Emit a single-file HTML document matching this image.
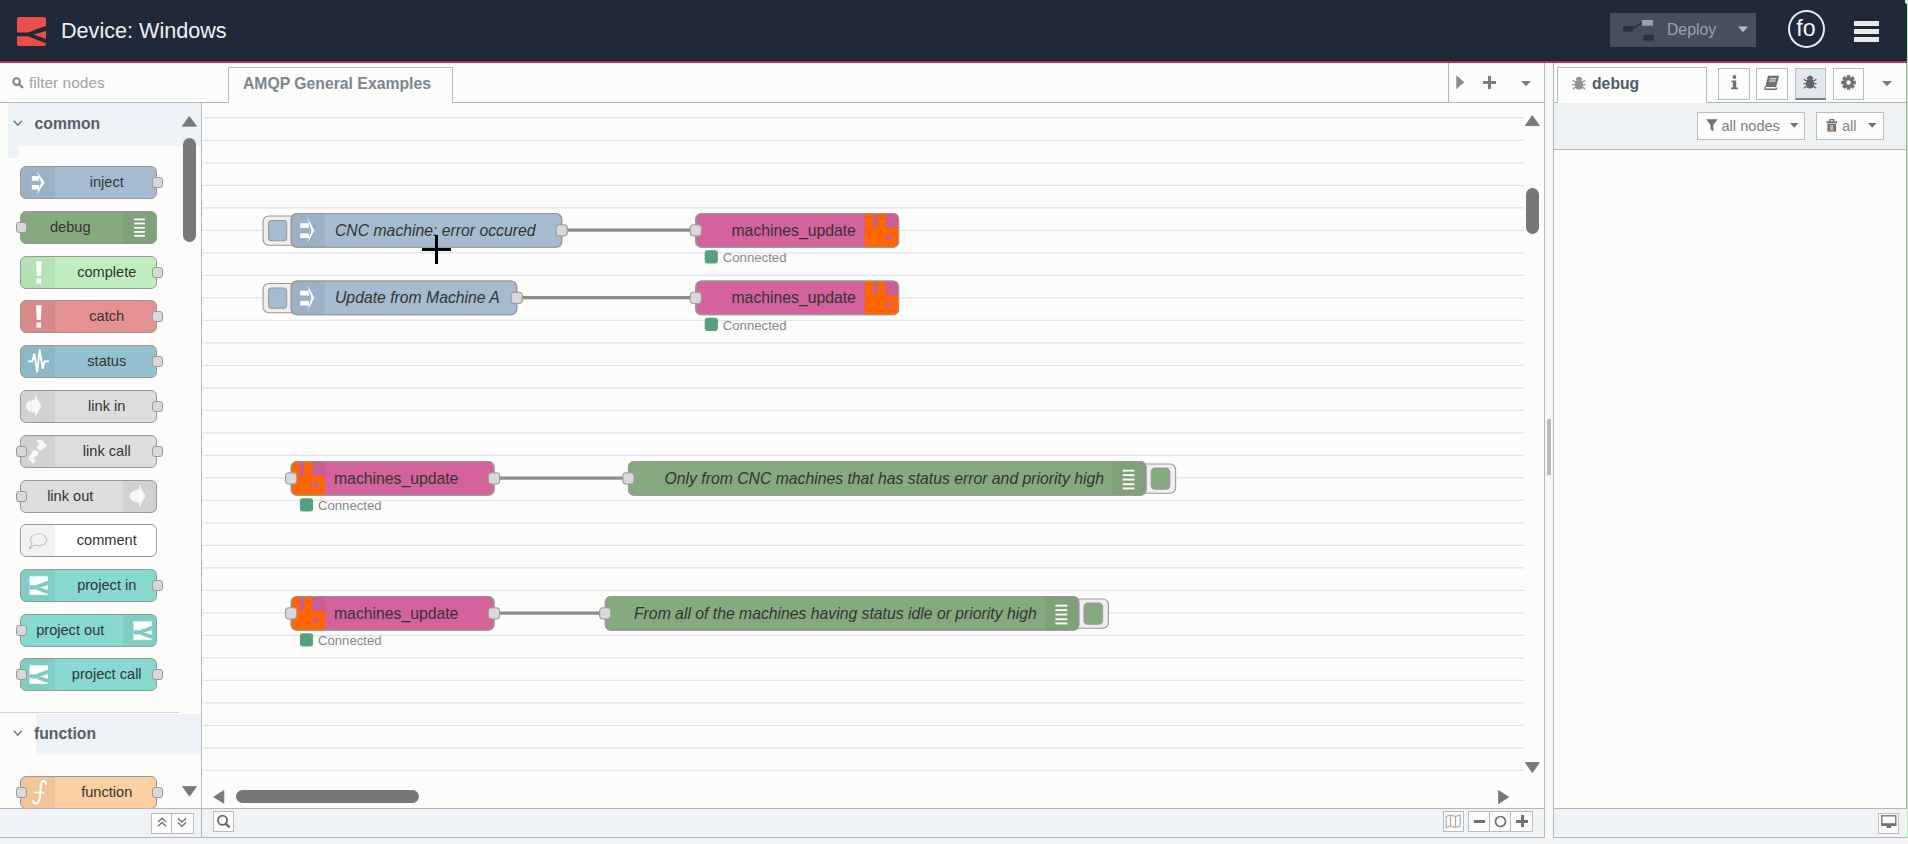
<!DOCTYPE html>
<html><head><meta charset="utf-8"><title>Node-RED</title>
<style>
html,body{margin:0;padding:0;}
body{width:1908px;height:844px;overflow:hidden;position:relative;background:#fcfcfa;font-family:"Liberation Sans",sans-serif;}
.a{position:absolute;box-sizing:border-box;}
.t{position:absolute;white-space:nowrap;}
</style></head><body>

<div class="a" style="left:0px;top:0px;width:1908px;height:59px;background:#1f2937"></div>
<div class="a" style="left:0px;top:59px;width:1908px;height:2px;background:#3a1c26"></div>
<div class="a" style="left:0px;top:61px;width:1908px;height:2px;background:#973b69"></div>
<div class="a" style="left:0px;top:63px;width:1908px;height:1px;background:#f6ebe6"></div>
<svg class="a" style="left:17px;top:17px;" width="29" height="29" viewBox="0 0 29 29"><rect x="0" y="0" width="29" height="29" rx="2" fill="#ea4f4a"/><path d="M0 15.6 L10 15.6 C13 15.6 16 13 29 9.1 L29 14.1 L16.4 17.5 L29 22 L29 26.2 C16 21.6 13 19.3 10 19.3 L0 19.3 Z" fill="#1f2937"/></svg>
<div class="t" style="left:61.00px;top:19.82px;font-size:21.6px;line-height:21.6px;color:#eef0f3;font-weight:normal;font-style:normal;">Device: Windows</div>
<div class="a" style="left:1610px;top:13px;width:146px;height:34px;background:#464f5d"></div>
<svg class="a" style="left:1623px;top:20px;" width="32" height="22" viewBox="0 0 32 22"><rect x="0" y="6" width="10" height="5.7" fill="#2a3240"/><rect x="18.8" y="0" width="11.2" height="5.7" fill="#9aa1a8"/><rect x="20.3" y="14.9" width="10.4" height="5.7" fill="#2a3240"/><path d="M10 8.5 L18.8 3" stroke="#2a3240" stroke-width="1.5"/></svg>
<div class="t" style="left:1667.00px;top:22.17px;font-size:15.75px;line-height:15.75px;color:#9ba3ad;font-weight:normal;font-style:normal;">Deploy</div>
<svg class="a" style="left:1738px;top:26px;" width="10" height="7" viewBox="0 0 10 7"><path d="M0 0.6 L10 0.6 L5 6.3Z" fill="#b8bec5"/></svg>
<div class="a" style="left:1788px;top:10px;width:37px;height:38px;border:2px solid #e9ebee;border-radius:50%;"></div>
<div class="t" style="left:1796.30px;top:17.46px;font-size:23.2px;line-height:23.2px;color:#f4f5f7;font-weight:normal;font-style:normal;">fo</div>
<div class="a" style="left:1854px;top:21px;width:25px;height:4.8px;background:#e6e8ea"></div>
<div class="a" style="left:1854px;top:29.1px;width:25px;height:4.8px;background:#e6e8ea"></div>
<div class="a" style="left:1854px;top:37.3px;width:25px;height:4.8px;background:#e6e8ea"></div>
<svg class="a" style="left:12px;top:77px;" width="12" height="12" viewBox="0 0 12 12"><circle cx="4.6" cy="4.6" r="3.3" fill="none" stroke="#7d848b" stroke-width="2"/><path d="M7 7 L10.3 10.3" stroke="#7d848b" stroke-width="2.2" stroke-linecap="round"/></svg>
<div class="t" style="left:29.00px;top:75.38px;font-size:15.5px;line-height:15.5px;color:#9fa4a9;font-weight:normal;font-style:normal;">filter nodes</div>
<div class="a" style="left:0px;top:102px;width:229px;height:1px;background:#b2b6ba"></div>
<div class="a" style="left:452px;top:102px;width:1092px;height:1px;background:#b2b6ba"></div>
<div class="a" style="left:228px;top:67px;width:225px;height:36px;border:1px solid #b8bcc0;border-bottom:none;background:#fcfcfb"></div>
<div class="t" style="left:243.00px;top:75.67px;font-size:15.75px;line-height:15.75px;color:#7b8690;font-weight:bold;font-style:normal;">AMQP General Examples</div>
<div class="a" style="left:1448px;top:63px;width:1px;height:39px;background:#b2b6ba"></div>
<svg class="a" style="left:1456px;top:75px;" width="9" height="15" viewBox="0 0 9 15"><path d="M0.3 0.3 L8.3 7.2 L0.3 14.3Z" fill="#8a8a8d"/></svg>
<svg class="a" style="left:1483px;top:76px;" width="13" height="13" viewBox="0 0 13 13"><rect x="5" y="0" width="3" height="13" fill="#7a7c80"/><rect x="0" y="5" width="13" height="3" fill="#7a7c80"/></svg>
<svg class="a" style="left:1521px;top:81px;" width="10" height="6" viewBox="0 0 10 6"><path d="M0 0 L10 0 L5 5.3Z" fill="#7a7c80"/></svg>
<div class="a" style="left:201px;top:103px;width:1px;height:735px;background:#b2b6ba"></div>
<div class="a" style="left:1544px;top:63px;width:1px;height:775px;background:#b2b6ba"></div>
<div class="a" style="left:1545px;top:63px;width:8px;height:775px;background:#f7f8f8"></div>
<div class="a" style="left:1547px;top:419px;width:4px;height:56px;background:#b9b9bb"></div>
<div class="a" style="left:1553px;top:63px;width:1px;height:775px;background:#b2b6ba"></div>
<div class="a" style="left:1906px;top:63px;width:1px;height:775px;background:#abacb2"></div>
<div class="a" style="left:1907px;top:0px;width:1px;height:844px;background:#b2f2b2"></div>
<div class="a" style="left:1905px;top:0px;width:2px;height:4px;background:#e6e6f0;border-radius:0 0 0 3px"></div>
<div class="a" style="left:1557px;top:67px;width:150px;height:36px;border:1px solid #b8bcc0;border-bottom:none;background:#fcfcfb"></div>
<div class="a" style="left:1553px;top:102px;width:4px;height:1px;background:#b2b6ba"></div>
<div class="a" style="left:1706px;top:102px;width:200px;height:1px;background:#b2b6ba"></div>
<svg class="a" style="left:1572px;top:76px;" width="14" height="14" viewBox="0 0 14 14"><g fill="#8f9496" stroke="#8f9496"><path d="M7 1.2 C5 1.2 4.2 2.5 4.2 3.6 L9.8 3.6 C9.8 2.5 9 1.2 7 1.2Z"/><rect x="3.6" y="4.4" width="6.8" height="8.6" rx="2.4"/><path d="M3.6 6 L0.6 4.4 M3.6 8.6 L0.4 8.6 M3.6 11 L0.8 13.2 M10.4 6 L13.4 4.4 M10.4 8.6 L13.6 8.6 M10.4 11 L13.2 13.2" stroke-width="1.3" fill="none"/></g></svg>
<div class="t" style="left:1592.00px;top:75.67px;font-size:15.75px;line-height:15.75px;color:#4e5b66;font-weight:bold;font-style:normal;">debug</div>
<div class="a" style="left:1718px;top:68px;width:32px;height:32px;border:1px solid #b8bcc0;background:#fcfcfb"></div>
<div class="a" style="left:1756px;top:68px;width:32px;height:32px;border:1px solid #b8bcc0;background:#fcfcfb"></div>
<div class="a" style="left:1795px;top:68px;width:31px;height:32px;border:1px solid #b8bcc0;border-bottom:2px solid #7a7f86;background:#e4e7ef"></div>
<div class="a" style="left:1833px;top:68px;width:31px;height:32px;border:1px solid #b8bcc0;background:#fcfcfb"></div>
<svg class="a" style="left:1730px;top:75px;" width="9" height="15" viewBox="0 0 9 15"><circle cx="4.4" cy="2" r="1.9" fill="#6d7276"/><path d="M1.5 5.4 L6.2 5.4 L6.2 12.4 L8 12.4 L8 14.3 L1 14.3 L1 12.4 L2.8 12.4 L2.8 7.3 L1.5 7.3Z" fill="#6d7276"/></svg>
<svg class="a" style="left:1764px;top:75px;" width="16" height="15" viewBox="0 0 16 15"><path d="M4 0.8 L15.2 0.8 L12 12 L1.2 12 Z" fill="#6d7276"/><path d="M1.2 12 L1 14.2 L12 14.2 L12.6 12.5" stroke="#6d7276" stroke-width="1.4" fill="none"/><path d="M5.8 3.8 L12.2 3.8 M5.2 6 L11.6 6" stroke="#fcfcfb" stroke-width="1"/></svg>
<svg class="a" style="left:1803px;top:75px;" width="15" height="15" viewBox="0 0 15 15"><g fill="#5f6468" stroke="#5f6468"><path d="M7 1.2 C5 1.2 4.2 2.5 4.2 3.6 L9.8 3.6 C9.8 2.5 9 1.2 7 1.2Z"/><rect x="3.6" y="4.4" width="6.8" height="8.6" rx="2.4"/><path d="M3.6 6 L0.6 4.4 M3.6 8.6 L0.4 8.6 M3.6 11 L0.8 13.2 M10.4 6 L13.4 4.4 M10.4 8.6 L13.6 8.6 M10.4 11 L13.2 13.2" stroke-width="1.3" fill="none"/></g></svg>
<svg class="a" style="left:1841px;top:75px;" width="15" height="15" viewBox="0 0 15 15"><g transform="translate(7.5 7.5)" fill="#6d7276"><rect x="-1.8" y="-7.3" width="3.6" height="4" transform="rotate(0)"/><rect x="-1.8" y="-7.3" width="3.6" height="4" transform="rotate(45)"/><rect x="-1.8" y="-7.3" width="3.6" height="4" transform="rotate(90)"/><rect x="-1.8" y="-7.3" width="3.6" height="4" transform="rotate(135)"/><rect x="-1.8" y="-7.3" width="3.6" height="4" transform="rotate(180)"/><rect x="-1.8" y="-7.3" width="3.6" height="4" transform="rotate(225)"/><rect x="-1.8" y="-7.3" width="3.6" height="4" transform="rotate(270)"/><rect x="-1.8" y="-7.3" width="3.6" height="4" transform="rotate(315)"/><circle r="5.2"/><circle r="2.2" fill="#fcfcfb"/></g></svg>
<svg class="a" style="left:1882px;top:81px;" width="10" height="6" viewBox="0 0 10 6"><path d="M0 0 L10 0 L5 5.3Z" fill="#7a7c80"/></svg>
<div class="a" style="left:1554px;top:103px;width:352px;height:46px;background:#eff2f5"></div>
<div class="a" style="left:1554px;top:149px;width:352px;height:1px;background:#b2b6ba"></div>
<div class="a" style="left:1697px;top:112px;width:108px;height:28px;border:1px solid #b8bcc0;background:#fcfcfb"></div>
<svg class="a" style="left:1706px;top:119px;" width="12" height="13" viewBox="0 0 12 13"><path d="M0 0.3 L11.8 0.3 L7.3 5.8 L7.3 12.5 L4.5 10.3 L4.5 5.8Z" fill="#6d7276"/></svg>
<div class="t" style="left:1721.50px;top:119.24px;font-size:14.6px;line-height:14.6px;color:#7c8186;font-weight:normal;font-style:normal;">all nodes</div>
<svg class="a" style="left:1790px;top:123px;" width="9" height="6" viewBox="0 0 9 6"><path d="M0 0 L8.5 0 L4.25 4.8Z" fill="#6d7276"/></svg>
<div class="a" style="left:1816px;top:112px;width:68px;height:28px;border:1px solid #b8bcc0;background:#fcfcfb"></div>
<svg class="a" style="left:1826px;top:119px;" width="12" height="13" viewBox="0 0 12 13"><rect x="0.5" y="2.2" width="10.5" height="1.8" fill="#6d7276"/><path d="M3.8 2.2 L3.8 0.6 L7.6 0.6 L7.6 2.2" stroke="#6d7276" stroke-width="1.2" fill="none"/><rect x="1.4" y="4.6" width="8.7" height="8" fill="#6d7276"/><rect x="4" y="6" width="3.4" height="5.6" fill="#d9a782"/></svg>
<div class="t" style="left:1842.00px;top:119.24px;font-size:14.6px;line-height:14.6px;color:#7c8186;font-weight:normal;font-style:normal;">all</div>
<svg class="a" style="left:1868px;top:123px;" width="9" height="6" viewBox="0 0 9 6"><path d="M0 0 L8.5 0 L4.25 4.8Z" fill="#6d7276"/></svg>
<div class="a" style="left:8px;top:103px;width:193px;height:43px;background:#eef3f7"></div>
<div class="a" style="left:8px;top:146px;width:11px;height:12px;background:#eef3f7"></div>
<svg class="a" style="left:13px;top:120px;" width="10" height="7" viewBox="0 0 10 7"><path d="M0.8 0.8 L4.8 5.2 L8.8 0.8" stroke="#6e767d" stroke-width="1.5" fill="none"/></svg>
<div class="t" style="left:34.50px;top:115.87px;font-size:15.75px;line-height:15.75px;color:#56606a;font-weight:bold;font-style:normal;">common</div>
<svg class="a" style="left:182px;top:116px;" width="15" height="11" viewBox="0 0 15 11"><path d="M7.3 0.5 L14.5 10.2 L0.2 10.2Z" fill="#77787c" stroke="#77787c" stroke-width="0.8" stroke-linejoin="round"/></svg>
<div class="a" style="left:183px;top:138px;width:13px;height:104px;background:#77787c;border-radius:6.5px"></div>
<div class="a" style="left:20px;top:166px;width:137px;height:33px;background:#a6bbcf;border:1px solid #999;border-radius:6px;overflow:hidden">
<div class="a" style="left:0;top:0;width:34px;height:31px;background:rgba(0,0,0,0.05)"></div>
</div>
<svg class="a" style="left:20px;top:166px;" width="34" height="33" viewBox="0 0 34 33"><g fill="#ffffff"><rect x="11.9" y="10" width="7" height="4.7"/><rect x="11.9" y="19" width="7" height="4.5"/><path d="M16.7 5.2 L24.7 16.6 L16.7 28.7 L21.2 16.6Z"/></g></svg>
<div class="t" style="left:46.75px;width:120px;text-align:center;top:174.94px;font-size:14.6px;line-height:14.6px;color:#333">inject</div>
<div class="a" style="left:152px;top:177px;width:11px;height:11px;background:#d9d9d9;border:1px solid #999;border-radius:3px"></div>
<div class="a" style="left:20px;top:211px;width:137px;height:33px;background:#87a980;border:1px solid #999;border-radius:6px;overflow:hidden">
<div class="a" style="right:0;top:0;width:33px;height:31px;background:rgba(0,0,0,0.05)"></div>
</div>
<svg class="a" style="left:124px;top:211px;" width="34" height="33" viewBox="0 0 34 33"><g fill="#ffffff"><rect x="10.2" y="7.5" width="10.7" height="1.8"/><rect x="10.2" y="11.6" width="10.7" height="1.8"/><rect x="10.2" y="15.9" width="10.7" height="1.8"/><rect x="10.2" y="20" width="10.7" height="1.8"/><rect x="10.2" y="23.9" width="10.7" height="1.8"/></g></svg>
<div class="t" style="left:10.25px;width:120px;text-align:center;top:219.94px;font-size:14.6px;line-height:14.6px;color:#333">debug</div>
<div class="a" style="left:16px;top:222px;width:11px;height:11px;background:#d9d9d9;border:1px solid #999;border-radius:3px"></div>
<div class="a" style="left:20px;top:256px;width:137px;height:33px;background:#c0edc0;border:1px solid #999;border-radius:6px;overflow:hidden">
<div class="a" style="left:0;top:0;width:34px;height:31px;background:rgba(0,0,0,0.05)"></div>
</div>
<svg class="a" style="left:20px;top:256px;" width="34" height="33" viewBox="0 0 34 33"><g fill="#ffffff"><path d="M16 5.2 L21.6 5.2 L20.8 20 L16.8 20Z"/><rect x="16.5" y="22.5" width="4.6" height="5.2"/></g></svg>
<div class="t" style="left:46.75px;width:120px;text-align:center;top:264.94px;font-size:14.6px;line-height:14.6px;color:#333">complete</div>
<div class="a" style="left:152px;top:267px;width:11px;height:11px;background:#d9d9d9;border:1px solid #999;border-radius:3px"></div>
<div class="a" style="left:20px;top:300px;width:137px;height:33px;background:#e49191;border:1px solid #999;border-radius:6px;overflow:hidden">
<div class="a" style="left:0;top:0;width:34px;height:31px;background:rgba(0,0,0,0.05)"></div>
</div>
<svg class="a" style="left:20px;top:300px;" width="34" height="33" viewBox="0 0 34 33"><g fill="#ffffff"><path d="M16 5.2 L21.6 5.2 L20.8 20 L16.8 20Z"/><rect x="16.5" y="22.5" width="4.6" height="5.2"/></g></svg>
<div class="t" style="left:46.75px;width:120px;text-align:center;top:308.94px;font-size:14.6px;line-height:14.6px;color:#333">catch</div>
<div class="a" style="left:152px;top:311px;width:11px;height:11px;background:#d9d9d9;border:1px solid #999;border-radius:3px"></div>
<div class="a" style="left:20px;top:345px;width:137px;height:33px;background:#94c1d0;border:1px solid #999;border-radius:6px;overflow:hidden">
<div class="a" style="left:0;top:0;width:34px;height:31px;background:rgba(0,0,0,0.05)"></div>
</div>
<svg class="a" style="left:20px;top:345px;" width="34" height="33" viewBox="0 0 34 33"><path d="M8 16.4 L12.2 16.4 L14.4 8.6 L17.2 27.3 L19.6 4.3 L22.7 23.8 L24.6 16.4 L29.1 16.4" stroke="#ffffff" stroke-width="1.9" fill="none" stroke-linejoin="miter"/></svg>
<div class="t" style="left:46.75px;width:120px;text-align:center;top:353.94px;font-size:14.6px;line-height:14.6px;color:#333">status</div>
<div class="a" style="left:152px;top:356px;width:11px;height:11px;background:#d9d9d9;border:1px solid #999;border-radius:3px"></div>
<div class="a" style="left:20px;top:390px;width:137px;height:33px;background:#dddddd;border:1px solid #999;border-radius:6px;overflow:hidden">
<div class="a" style="left:0;top:0;width:34px;height:31px;background:rgba(0,0,0,0.05)"></div>
</div>
<svg class="a" style="left:20px;top:390px;" width="34" height="33" viewBox="0 0 34 33"><g fill="#ffffff" opacity="0.85"><path d="M15 4.6 L21.4 16 L15 27.5 L15 22.5 L11.5 22.5 L11.5 9.5 L15 9.5Z"/><path d="M11.5 10.5 A5.5 5.5 0 0 0 11.5 21.5Z"/></g></svg>
<div class="t" style="left:46.75px;width:120px;text-align:center;top:398.94px;font-size:14.6px;line-height:14.6px;color:#333">link in</div>
<div class="a" style="left:152px;top:401px;width:11px;height:11px;background:#d9d9d9;border:1px solid #999;border-radius:3px"></div>
<div class="a" style="left:20px;top:435px;width:137px;height:33px;background:#dddddd;border:1px solid #999;border-radius:6px;overflow:hidden">
<div class="a" style="left:0;top:0;width:34px;height:31px;background:rgba(0,0,0,0.05)"></div>
</div>
<svg class="a" style="left:20px;top:435px;" width="34" height="33" viewBox="0 0 34 33"><g fill="#ffffff" opacity="0.85"><path d="M16 5 L22 5 L27 10.5 L22 15.5 L19 15.5 L16.5 12 L19.5 9.5Z"/><path d="M9 21.5 L13 17 L16 19.5 L14 23 L16 26 L13 28.5 L8.5 24Z"/><circle cx="15" cy="18.5" r="3.3"/></g></svg>
<div class="t" style="left:46.75px;width:120px;text-align:center;top:443.94px;font-size:14.6px;line-height:14.6px;color:#333">link call</div>
<div class="a" style="left:16px;top:446px;width:11px;height:11px;background:#d9d9d9;border:1px solid #999;border-radius:3px"></div>
<div class="a" style="left:152px;top:446px;width:11px;height:11px;background:#d9d9d9;border:1px solid #999;border-radius:3px"></div>
<div class="a" style="left:20px;top:480px;width:137px;height:33px;background:#dddddd;border:1px solid #999;border-radius:6px;overflow:hidden">
<div class="a" style="right:0;top:0;width:33px;height:31px;background:rgba(0,0,0,0.05)"></div>
</div>
<svg class="a" style="left:124px;top:480px;" width="34" height="33" viewBox="0 0 34 33"><g fill="#ffffff" opacity="0.85"><path d="M15 4.6 L21.4 16 L15 27.5 L15 22.5 L11.5 22.5 L11.5 9.5 L15 9.5Z"/><path d="M11.5 10.5 A5.5 5.5 0 0 0 11.5 21.5Z"/></g></svg>
<div class="t" style="left:10.25px;width:120px;text-align:center;top:488.94px;font-size:14.6px;line-height:14.6px;color:#333">link out</div>
<div class="a" style="left:16px;top:491px;width:11px;height:11px;background:#d9d9d9;border:1px solid #999;border-radius:3px"></div>
<div class="a" style="left:20px;top:524px;width:137px;height:33px;background:#ffffff;border:1px solid #999;border-radius:6px;overflow:hidden">
<div class="a" style="left:0;top:0;width:34px;height:31px;background:rgba(0,0,0,0.05)"></div>
</div>
<svg class="a" style="left:20px;top:524px;" width="34" height="33" viewBox="0 0 34 33"><path d="M10.6 15.8 C10.6 12 14.2 9.8 18.5 9.8 C22.8 9.8 26.5 12 26.5 15.8 C26.5 19.6 22.8 21.8 18.5 21.8 C17 21.8 15.6 21.6 14.5 21.1 L9.3 24.7 L11.8 19.8 C11 18.6 10.6 17.2 10.6 15.8Z" fill="none" stroke="#c2c2c2" stroke-width="1.1"/></svg>
<div class="t" style="left:46.75px;width:120px;text-align:center;top:532.94px;font-size:14.6px;line-height:14.6px;color:#333">comment</div>
<div class="a" style="left:20px;top:569px;width:137px;height:33px;background:#87d8cf;border:1px solid #999;border-radius:6px;overflow:hidden">
<div class="a" style="left:0;top:0;width:34px;height:31px;background:rgba(0,0,0,0.05)"></div>
</div>
<svg class="a" style="left:20px;top:569px;" width="34" height="33" viewBox="0 0 34 33"><g><rect x="9.5" y="7.3" width="18.5" height="18.5" fill="#ffffff"/><g transform="translate(9.5 7.3)"><path d="M0 9.0 L5.5 9.0 C7.5 8.8 9.5 7.6 18.5 4.5 L18.5 9.0 L10.6 11.1 L18.5 13.4 L18.5 17.8 C9.5 14.6 7.5 13.2 5.5 13.1 L0 13.1 Z" fill="#80cdc5"/></g></g></svg>
<div class="t" style="left:46.75px;width:120px;text-align:center;top:577.94px;font-size:14.6px;line-height:14.6px;color:#333">project in</div>
<div class="a" style="left:152px;top:580px;width:11px;height:11px;background:#d9d9d9;border:1px solid #999;border-radius:3px"></div>
<div class="a" style="left:20px;top:614px;width:137px;height:33px;background:#87d8cf;border:1px solid #999;border-radius:6px;overflow:hidden">
<div class="a" style="right:0;top:0;width:33px;height:31px;background:rgba(0,0,0,0.05)"></div>
</div>
<svg class="a" style="left:124px;top:614px;" width="34" height="33" viewBox="0 0 34 33"><g><rect x="9.5" y="7.3" width="18.5" height="18.5" fill="#ffffff"/><g transform="translate(9.5 7.3)"><path d="M0 9.0 L5.5 9.0 C7.5 8.8 9.5 7.6 18.5 4.5 L18.5 9.0 L10.6 11.1 L18.5 13.4 L18.5 17.8 C9.5 14.6 7.5 13.2 5.5 13.1 L0 13.1 Z" fill="#80cdc5"/></g></g></svg>
<div class="t" style="left:10.25px;width:120px;text-align:center;top:622.94px;font-size:14.6px;line-height:14.6px;color:#333">project out</div>
<div class="a" style="left:16px;top:625px;width:11px;height:11px;background:#d9d9d9;border:1px solid #999;border-radius:3px"></div>
<div class="a" style="left:20px;top:658px;width:137px;height:33px;background:#87d8cf;border:1px solid #999;border-radius:6px;overflow:hidden">
<div class="a" style="left:0;top:0;width:34px;height:31px;background:rgba(0,0,0,0.05)"></div>
</div>
<svg class="a" style="left:20px;top:658px;" width="34" height="33" viewBox="0 0 34 33"><g><rect x="9.5" y="7.3" width="18.5" height="18.5" fill="#ffffff"/><g transform="translate(9.5 7.3)"><path d="M0 9.0 L5.5 9.0 C7.5 8.8 9.5 7.6 18.5 4.5 L18.5 9.0 L10.6 11.1 L18.5 13.4 L18.5 17.8 C9.5 14.6 7.5 13.2 5.5 13.1 L0 13.1 Z" fill="#80cdc5"/></g></g></svg>
<div class="t" style="left:46.75px;width:120px;text-align:center;top:666.94px;font-size:14.6px;line-height:14.6px;color:#333">project call</div>
<div class="a" style="left:16px;top:669px;width:11px;height:11px;background:#d9d9d9;border:1px solid #999;border-radius:3px"></div>
<div class="a" style="left:152px;top:669px;width:11px;height:11px;background:#d9d9d9;border:1px solid #999;border-radius:3px"></div>
<div class="a" style="left:0px;top:712px;width:179px;height:1px;background:#cfd2d4"></div>
<div class="a" style="left:36px;top:714px;width:165px;height:41px;background:#eef3f7"></div>
<svg class="a" style="left:13px;top:730px;" width="10" height="7" viewBox="0 0 10 7"><path d="M0.8 0.8 L4.8 5.2 L8.8 0.8" stroke="#6e767d" stroke-width="1.5" fill="none"/></svg>
<div class="t" style="left:34.00px;top:726.07px;font-size:15.75px;line-height:15.75px;color:#56606a;font-weight:bold;font-style:normal;">function</div>
<div class="a" style="left:0;top:760px;width:201px;height:48px;overflow:hidden">
<div class="a" style="left:20px;top:16px;width:137px;height:33px;background:#fdd0a2;border:1px solid #999;border-radius:6px;overflow:hidden"><div class="a" style="left:0;top:0;width:34px;height:31px;background:rgba(0,0,0,0.05)"></div></div>
<svg class="a" style="left:20px;top:16px" width="34" height="33"><path d="M26 7.8 C25.6 5.2 23.4 4.4 22 5.6 C20.8 6.8 20.6 9.5 20.4 16 C20.2 22.5 19.2 27.6 15.8 27.6 C14.4 27.6 13.4 26.6 13.3 25" stroke="#ffffff" stroke-width="2" fill="none" stroke-linecap="round"/><path d="M14.4 16.5 L23.6 16.5" stroke="#ffffff" stroke-width="1.6"/></svg>
<div class="t" style="left:46.75px;width:120px;text-align:center;top:24.94px;font-size:14.6px;line-height:14.6px;color:#333">function</div>
<div class="a" style="left:16px;top:27px;width:11px;height:11px;background:#d9d9d9;border:1px solid #999;border-radius:3px"></div>
<div class="a" style="left:152px;top:27px;width:11px;height:11px;background:#d9d9d9;border:1px solid #999;border-radius:3px"></div>
</div>
<svg class="a" style="left:182px;top:786px;" width="15" height="11" viewBox="0 0 15 11"><path d="M0.5 0.5 L14.5 0.5 L7.5 10.3Z" fill="#77787c" stroke="#77787c" stroke-width="0.8" stroke-linejoin="round"/></svg>
<svg class="a" style="left:202px;top:103px;font-family:'Liberation Sans',sans-serif" width="1342" height="705" viewBox="202 103 1342 705"><line x1="203" y1="117.8" x2="1524" y2="117.8" stroke="#dee1ee" stroke-width="1.15"/><line x1="203" y1="140.3" x2="1524" y2="140.3" stroke="#dee1ee" stroke-width="1.15"/><line x1="203" y1="162.8" x2="1524" y2="162.8" stroke="#dee1ee" stroke-width="1.15"/><line x1="203" y1="185.3" x2="1524" y2="185.3" stroke="#dee1ee" stroke-width="1.15"/><line x1="203" y1="207.8" x2="1524" y2="207.8" stroke="#dee1ee" stroke-width="1.15"/><line x1="203" y1="230.3" x2="1524" y2="230.3" stroke="#dee1ee" stroke-width="1.15"/><line x1="203" y1="252.8" x2="1524" y2="252.8" stroke="#dee1ee" stroke-width="1.15"/><line x1="203" y1="275.3" x2="1524" y2="275.3" stroke="#dee1ee" stroke-width="1.15"/><line x1="203" y1="297.8" x2="1524" y2="297.8" stroke="#dee1ee" stroke-width="1.15"/><line x1="203" y1="320.3" x2="1524" y2="320.3" stroke="#dee1ee" stroke-width="1.15"/><line x1="203" y1="342.8" x2="1524" y2="342.8" stroke="#dee1ee" stroke-width="1.15"/><line x1="203" y1="365.3" x2="1524" y2="365.3" stroke="#dee1ee" stroke-width="1.15"/><line x1="203" y1="387.8" x2="1524" y2="387.8" stroke="#dee1ee" stroke-width="1.15"/><line x1="203" y1="410.3" x2="1524" y2="410.3" stroke="#dee1ee" stroke-width="1.15"/><line x1="203" y1="432.8" x2="1524" y2="432.8" stroke="#dee1ee" stroke-width="1.15"/><line x1="203" y1="455.3" x2="1524" y2="455.3" stroke="#dee1ee" stroke-width="1.15"/><line x1="203" y1="477.8" x2="1524" y2="477.8" stroke="#dee1ee" stroke-width="1.15"/><line x1="203" y1="500.3" x2="1524" y2="500.3" stroke="#dee1ee" stroke-width="1.15"/><line x1="203" y1="522.8" x2="1524" y2="522.8" stroke="#dee1ee" stroke-width="1.15"/><line x1="203" y1="545.3" x2="1524" y2="545.3" stroke="#dee1ee" stroke-width="1.15"/><line x1="203" y1="567.8" x2="1524" y2="567.8" stroke="#dee1ee" stroke-width="1.15"/><line x1="203" y1="590.3" x2="1524" y2="590.3" stroke="#dee1ee" stroke-width="1.15"/><line x1="203" y1="612.8" x2="1524" y2="612.8" stroke="#dee1ee" stroke-width="1.15"/><line x1="203" y1="635.3" x2="1524" y2="635.3" stroke="#dee1ee" stroke-width="1.15"/><line x1="203" y1="657.8" x2="1524" y2="657.8" stroke="#dee1ee" stroke-width="1.15"/><line x1="203" y1="680.3" x2="1524" y2="680.3" stroke="#dee1ee" stroke-width="1.15"/><line x1="203" y1="702.8" x2="1524" y2="702.8" stroke="#dee1ee" stroke-width="1.15"/><line x1="203" y1="725.3" x2="1524" y2="725.3" stroke="#dee1ee" stroke-width="1.15"/><line x1="203" y1="747.8" x2="1524" y2="747.8" stroke="#dee1ee" stroke-width="1.15"/><line x1="203" y1="770.3" x2="1524" y2="770.3" stroke="#dee1ee" stroke-width="1.15"/><path d="M561.7 230.1 L695.5 230.1" stroke="#8c8c8c" stroke-width="3.4" fill="none"/><rect x="263.09999999999997" y="216.0" width="36" height="29.2" rx="5.6" fill="#eeeef3" stroke="#999" stroke-width="1.1"/><rect x="268.59999999999997" y="220.5" width="18" height="20.25" rx="3" fill="#a6bbcf" stroke="#999" stroke-width="1.1"/><rect x="291.2" y="213.5" width="270.5" height="33.75" rx="5.6" fill="#a6bbcf" stroke="#999" stroke-width="1.1"/><path d="M296.8 213.5 L324.95 213.5 L324.95 247.25 L296.8 247.25 Q291.2 247.25 291.2 241.65 L291.2 219.1 Q291.2 213.5 296.8 213.5Z" fill="#000" fill-opacity="0.05"/><g transform="translate(291.2 213.5)"><g fill="#fff"><rect x="9" y="9.7" width="8.8" height="4.8"/><rect x="9" y="19.9" width="8.8" height="4.6"/><path d="M16.1 3.8 L23.2 16.9 L16.1 30 L20.3 16.9Z"/></g></g><rect x="291.2" y="213.5" width="270.5" height="33.75" rx="5.6" fill="none" stroke="#999" stroke-width="1.1"/><rect x="556.075" y="224.75" width="11.25" height="11.25" rx="3.4" fill="#d9d9d9" stroke="#999" stroke-width="1.1"/><text x="335" y="235.6" font-size="15.75" font-style="italic" fill="#333">CNC machine: error occured</text><rect x="695.8" y="213.5" width="202.8" height="33.75" rx="5.6" fill="#d4629c" stroke="#999" stroke-width="1.1"/><path d="M892.9999999999999 213.5 L864.8499999999999 213.5 L864.8499999999999 247.25 L892.9999999999999 247.25 Q898.5999999999999 247.25 898.5999999999999 241.65 L898.5999999999999 219.1 Q898.5999999999999 213.5 892.9999999999999 213.5Z" fill="#ff6600"/><g transform="translate(864.8499999999999 213.5)"><g fill="#c95d94"><rect x="8.1" y="0.4" width="4.5" height="13"/><path d="M20.8 0 L28.15 0 A5.6 5.6 0 0 1 33.75 5.6 L33.75 14.2 L20.8 14.2Z"/><circle cx="24" cy="23.4" r="3"/></g></g><rect x="695.8" y="213.5" width="202.8" height="33.75" rx="5.6" fill="none" stroke="#999" stroke-width="1.1"/><rect x="690.175" y="224.75" width="11.25" height="11.25" rx="3.4" fill="#d9d9d9" stroke="#999" stroke-width="1.1"/><text x="731.5" y="235.6" font-size="15.75" font-style="normal" fill="#333">machines_update</text><rect x="704.7" y="250.2" width="13.2" height="13.2" rx="3" fill="#55a07f"/><text x="722.7" y="262.0" font-size="13.2" fill="#888">Connected</text><path d="M516.7 297.6 L695.5 297.6" stroke="#8c8c8c" stroke-width="3.4" fill="none"/><rect x="263.09999999999997" y="283.5" width="36" height="29.2" rx="5.6" fill="#eeeef3" stroke="#999" stroke-width="1.1"/><rect x="268.59999999999997" y="288.0" width="18" height="20.25" rx="3" fill="#a6bbcf" stroke="#999" stroke-width="1.1"/><rect x="291.2" y="281.0" width="225.5" height="33.75" rx="5.6" fill="#a6bbcf" stroke="#999" stroke-width="1.1"/><path d="M296.8 281.0 L324.95 281.0 L324.95 314.75 L296.8 314.75 Q291.2 314.75 291.2 309.15 L291.2 286.6 Q291.2 281.0 296.8 281.0Z" fill="#000" fill-opacity="0.05"/><g transform="translate(291.2 281.0)"><g fill="#fff"><rect x="9" y="9.7" width="8.8" height="4.8"/><rect x="9" y="19.9" width="8.8" height="4.6"/><path d="M16.1 3.8 L23.2 16.9 L16.1 30 L20.3 16.9Z"/></g></g><rect x="291.2" y="281.0" width="225.5" height="33.75" rx="5.6" fill="none" stroke="#999" stroke-width="1.1"/><rect x="511.07500000000005" y="292.25" width="11.25" height="11.25" rx="3.4" fill="#d9d9d9" stroke="#999" stroke-width="1.1"/><text x="335" y="303.1" font-size="15.75" font-style="italic" fill="#333">Update from Machine A</text><rect x="695.8" y="281.0" width="202.8" height="33.75" rx="5.6" fill="#d4629c" stroke="#999" stroke-width="1.1"/><path d="M892.9999999999999 281.0 L864.8499999999999 281.0 L864.8499999999999 314.75 L892.9999999999999 314.75 Q898.5999999999999 314.75 898.5999999999999 309.15 L898.5999999999999 286.6 Q898.5999999999999 281.0 892.9999999999999 281.0Z" fill="#ff6600"/><g transform="translate(864.8499999999999 281.0)"><g fill="#c95d94"><rect x="8.1" y="0.4" width="4.5" height="13"/><path d="M20.8 0 L28.15 0 A5.6 5.6 0 0 1 33.75 5.6 L33.75 14.2 L20.8 14.2Z"/><circle cx="24" cy="23.4" r="3"/></g></g><rect x="695.8" y="281.0" width="202.8" height="33.75" rx="5.6" fill="none" stroke="#999" stroke-width="1.1"/><rect x="690.175" y="292.25" width="11.25" height="11.25" rx="3.4" fill="#d9d9d9" stroke="#999" stroke-width="1.1"/><text x="731.5" y="303.1" font-size="15.75" font-style="normal" fill="#333">machines_update</text><rect x="704.7" y="317.7" width="13.2" height="13.2" rx="3" fill="#55a07f"/><text x="722.7" y="329.5" font-size="13.2" fill="#888">Connected</text><path d="M494 478.1 L628.5 478.1" stroke="#8c8c8c" stroke-width="3.4" fill="none"/><rect x="291.2" y="461.5" width="202.8" height="33.75" rx="5.6" fill="#d4629c" stroke="#999" stroke-width="1.1"/><path d="M296.8 461.5 L324.95 461.5 L324.95 495.25 L296.8 495.25 Q291.2 495.25 291.2 489.65 L291.2 467.1 Q291.2 461.5 296.8 461.5Z" fill="#ff6600"/><g transform="translate(291.2 461.5)"><g fill="#c95d94"><rect x="8.1" y="0.4" width="4.5" height="13"/><rect x="20.8" y="0.4" width="12.95" height="13.8"/><circle cx="24" cy="23.4" r="3"/></g></g><rect x="291.2" y="461.5" width="202.8" height="33.75" rx="5.6" fill="none" stroke="#999" stroke-width="1.1"/><rect x="285.575" y="472.75" width="11.25" height="11.25" rx="3.4" fill="#d9d9d9" stroke="#999" stroke-width="1.1"/><rect x="488.375" y="472.75" width="11.25" height="11.25" rx="3.4" fill="#d9d9d9" stroke="#999" stroke-width="1.1"/><text x="334" y="483.6" font-size="15.75" font-style="normal" fill="#333">machines_update</text><rect x="299.9" y="498.2" width="13.2" height="13.2" rx="3" fill="#55a07f"/><text x="317.9" y="510.0" font-size="13.2" fill="#888">Connected</text><rect x="1138.0" y="464.0" width="37.6" height="29.2" rx="5.6" fill="#eeeef3" stroke="#999" stroke-width="1.1"/><rect x="1151.2" y="468.1" width="18.6" height="21.2" rx="4" fill="#87a980" stroke="#999" stroke-width="1.1"/><rect x="628.5" y="461.5" width="517.5" height="33.75" rx="5.6" fill="#87a980" stroke="#999" stroke-width="1.1"/><path d="M1140.4 461.5 L1112.25 461.5 L1112.25 495.25 L1140.4 495.25 Q1146.0 495.25 1146.0 489.65 L1146.0 467.1 Q1146.0 461.5 1140.4 461.5Z" fill="#000" fill-opacity="0.05"/><g transform="translate(1112.25 461.5)"><g fill="#fff"><rect x="10.4" y="8.2" width="11.8" height="1.9"/><rect x="10.4" y="12.7" width="11.8" height="1.9"/><rect x="10.4" y="17.1" width="11.8" height="1.9"/><rect x="10.4" y="21.8" width="11.8" height="1.9"/><rect x="10.4" y="26" width="11.8" height="1.9"/></g></g><rect x="628.5" y="461.5" width="517.5" height="33.75" rx="5.6" fill="none" stroke="#999" stroke-width="1.1"/><rect x="622.875" y="472.75" width="11.25" height="11.25" rx="3.4" fill="#d9d9d9" stroke="#999" stroke-width="1.1"/><text x="664.5" y="483.6" font-size="15.75" font-style="italic" fill="#333">Only from CNC machines that has status error and priority high</text><path d="M494 613.1 L605.3 613.1" stroke="#8c8c8c" stroke-width="3.4" fill="none"/><rect x="291.2" y="596.5" width="202.8" height="33.75" rx="5.6" fill="#d4629c" stroke="#999" stroke-width="1.1"/><path d="M296.8 596.5 L324.95 596.5 L324.95 630.25 L296.8 630.25 Q291.2 630.25 291.2 624.65 L291.2 602.1 Q291.2 596.5 296.8 596.5Z" fill="#ff6600"/><g transform="translate(291.2 596.5)"><g fill="#c95d94"><rect x="8.1" y="0.4" width="4.5" height="13"/><rect x="20.8" y="0.4" width="12.95" height="13.8"/><circle cx="24" cy="23.4" r="3"/></g></g><rect x="291.2" y="596.5" width="202.8" height="33.75" rx="5.6" fill="none" stroke="#999" stroke-width="1.1"/><rect x="285.575" y="607.75" width="11.25" height="11.25" rx="3.4" fill="#d9d9d9" stroke="#999" stroke-width="1.1"/><rect x="488.375" y="607.75" width="11.25" height="11.25" rx="3.4" fill="#d9d9d9" stroke="#999" stroke-width="1.1"/><text x="334" y="618.6" font-size="15.75" font-style="normal" fill="#333">machines_update</text><rect x="299.9" y="633.2" width="13.2" height="13.2" rx="3" fill="#55a07f"/><text x="317.9" y="645.0" font-size="13.2" fill="#888">Connected</text><rect x="1070.8" y="599.0" width="37.6" height="29.2" rx="5.6" fill="#eeeef3" stroke="#999" stroke-width="1.1"/><rect x="1084.0" y="603.1" width="18.6" height="21.2" rx="4" fill="#87a980" stroke="#999" stroke-width="1.1"/><rect x="605.3" y="596.5" width="473.5" height="33.75" rx="5.6" fill="#87a980" stroke="#999" stroke-width="1.1"/><path d="M1073.2 596.5 L1045.05 596.5 L1045.05 630.25 L1073.2 630.25 Q1078.8 630.25 1078.8 624.65 L1078.8 602.1 Q1078.8 596.5 1073.2 596.5Z" fill="#000" fill-opacity="0.05"/><g transform="translate(1045.05 596.5)"><g fill="#fff"><rect x="10.4" y="8.2" width="11.8" height="1.9"/><rect x="10.4" y="12.7" width="11.8" height="1.9"/><rect x="10.4" y="17.1" width="11.8" height="1.9"/><rect x="10.4" y="21.8" width="11.8" height="1.9"/><rect x="10.4" y="26" width="11.8" height="1.9"/></g></g><rect x="605.3" y="596.5" width="473.5" height="33.75" rx="5.6" fill="none" stroke="#999" stroke-width="1.1"/><rect x="599.675" y="607.75" width="11.25" height="11.25" rx="3.4" fill="#d9d9d9" stroke="#999" stroke-width="1.1"/><text x="634" y="618.6" font-size="15.75" font-style="italic" fill="#333">From all of the machines having status idle or priority high</text></svg>
<svg class="a" style="left:1525px;top:115px;" width="15" height="12" viewBox="0 0 15 12"><path d="M7.3 0.6 L14.4 10.6 L0.4 10.6Z" fill="#77787c" stroke="#77787c" stroke-width="0.9" stroke-linejoin="round"/></svg>
<div class="a" style="left:1526px;top:188px;width:13px;height:46px;background:#76777b;border-radius:6.5px"></div>
<svg class="a" style="left:1525px;top:762px;" width="15" height="12" viewBox="0 0 15 12"><path d="M0.4 0.6 L14.4 0.6 L7.3 10.6Z" fill="#77787c" stroke="#77787c" stroke-width="0.9" stroke-linejoin="round"/></svg>
<svg class="a" style="left:213px;top:790px;" width="12" height="14" viewBox="0 0 12 14"><path d="M10.8 0.6 L10.8 13.2 L0.8 6.9Z" fill="#77787c" stroke="#77787c" stroke-width="0.9" stroke-linejoin="round"/></svg>
<div class="a" style="left:236px;top:790px;width:183px;height:13px;background:#76777b;border-radius:6.5px"></div>
<svg class="a" style="left:1498px;top:790px;" width="12" height="15" viewBox="0 0 12 15"><path d="M0.6 0.6 L0.6 13.6 L10.6 7.1Z" fill="#77787c" stroke="#77787c" stroke-width="0.9" stroke-linejoin="round"/></svg>
<div class="a" style="left:435px;top:235px;width:3px;height:29px;background:#000"></div>
<div class="a" style="left:422px;top:248px;width:29px;height:3px;background:#000"></div>
<div class="a" style="left:0px;top:808px;width:1907px;height:30px;background:#f0f3f6"></div>
<div class="a" style="left:0px;top:808px;width:1907px;height:1px;background:#b2b6ba"></div>
<div class="a" style="left:0px;top:837px;width:1907px;height:1px;background:#b2b6ba"></div>
<div class="a" style="left:0px;top:838px;width:1908px;height:6px;background:#f3f4f6"></div>
<div class="a" style="left:201px;top:808px;width:1px;height:30px;background:#b2b6ba"></div>
<div class="a" style="left:1544px;top:808px;width:1px;height:30px;background:#b2b6ba"></div>
<div class="a" style="left:1545px;top:808px;width:8px;height:30px;background:#f7f8f8"></div>
<div class="a" style="left:1553px;top:808px;width:1px;height:30px;background:#b2b6ba"></div>
<div class="a" style="left:151px;top:813px;width:43px;height:21px;border:1px solid #b8bcc0;background:#fcfcfb"></div>
<div class="a" style="left:171px;top:813px;width:1px;height:21px;background:#b8bcc0"></div>
<svg class="a" style="left:157px;top:817px;" width="10" height="11" viewBox="0 0 10 11"><path d="M1 5 L5 1.2 L9 5 M1 9.3 L5 5.5 L9 9.3" stroke="#6d7276" stroke-width="1.3" fill="none"/></svg>
<svg class="a" style="left:177px;top:817px;" width="10" height="11" viewBox="0 0 10 11"><path d="M1 1.2 L5 5 L9 1.2 M1 5.5 L5 9.3 L9 5.5" stroke="#6d7276" stroke-width="1.3" fill="none"/></svg>
<div class="a" style="left:213px;top:811px;width:21px;height:21px;border:1px solid #b8bcc0;background:#fcfcfb"></div>
<svg class="a" style="left:216px;top:814px;" width="15" height="15" viewBox="0 0 15 15"><circle cx="6.5" cy="6.3" r="4.6" fill="none" stroke="#66696d" stroke-width="1.8"/><path d="M9.8 9.6 L13 12.8" stroke="#66696d" stroke-width="2.2" stroke-linecap="round"/></svg>
<div class="a" style="left:1443px;top:811px;width:21px;height:21px;border:1px solid #b8bcc0;background:#fcfcfb"></div>
<svg class="a" style="left:1445px;top:814px;" width="17" height="15" viewBox="0 0 17 15"><path d="M1.2 2.5 L5.5 1 L10.5 2.5 L15.2 1 L15.2 12 L10.5 13.5 L5.5 12 L1.2 13.5Z" fill="none" stroke="#8aaac0" stroke-width="1.1"/><path d="M5.5 1 L5.5 12 M10.5 2.5 L10.5 13.5" stroke="#c7a38a" stroke-width="1.1"/></svg>
<div class="a" style="left:1468px;top:811px;width:65px;height:21px;border:1px solid #b8bcc0;background:#fcfcfb"></div>
<div class="a" style="left:1489px;top:811px;width:1px;height:21px;background:#b8bcc0"></div>
<div class="a" style="left:1510px;top:811px;width:1px;height:21px;background:#b8bcc0"></div>
<div class="a" style="left:1474px;top:819.5px;width:11px;height:3px;background:#6d7276"></div>
<svg class="a" style="left:1493px;top:814px;" width="15" height="15" viewBox="0 0 15 15"><circle cx="7.5" cy="7.5" r="5" fill="none" stroke="#6d7276" stroke-width="1.7"/></svg>
<div class="a" style="left:1516px;top:819.5px;width:12px;height:3px;background:#6d7276"></div>
<div class="a" style="left:1520.5px;top:815px;width:3px;height:12px;background:#6d7276"></div>
<div class="a" style="left:1878px;top:813px;width:21px;height:21px;border:1px solid #b8bcc0;background:#fcfcfb"></div>
<svg class="a" style="left:1881px;top:815px;" width="16" height="14" viewBox="0 0 16 14"><rect x="0.8" y="0.8" width="14" height="9.5" fill="none" stroke="#6d7276" stroke-width="1.3"/><rect x="0.4" y="8.2" width="14.8" height="2.6" fill="#6d7276"/><rect x="5.5" y="10.8" width="4.6" height="2.2" fill="#6d7276"/></svg>
</body></html>
